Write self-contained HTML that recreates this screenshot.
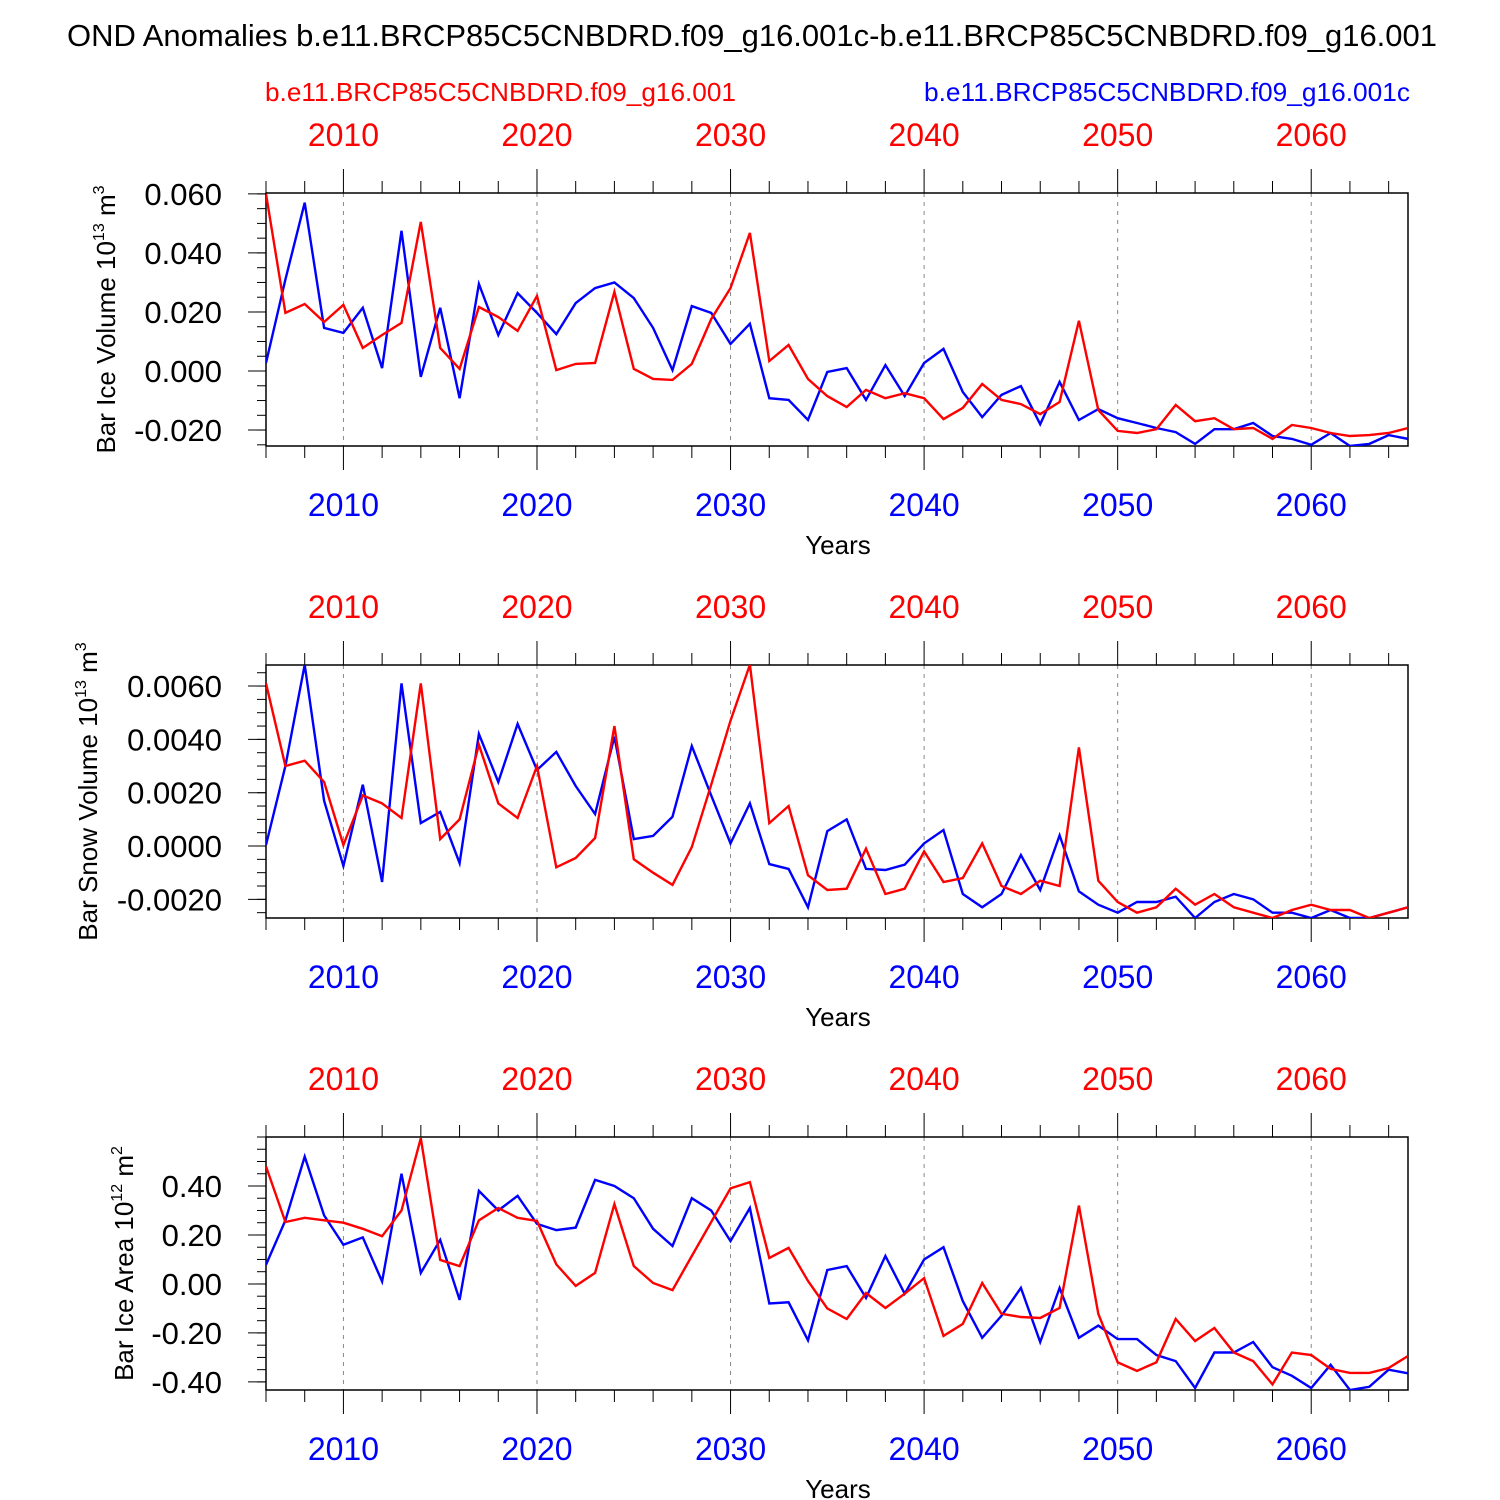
<!DOCTYPE html>
<html><head><meta charset="utf-8"><style>body{margin:0;background:#fff}svg{display:block}text{font-family:"Liberation Sans",sans-serif}</style></head>
<body>
<svg id="chart" width="1500" height="1500" viewBox="0 0 1500 1500" xmlns="http://www.w3.org/2000/svg">
<text x="752" y="46" font-size="31" text-anchor="middle" textLength="1370" lengthAdjust="spacingAndGlyphs">OND Anomalies b.e11.BRCP85C5CNBDRD.f09_g16.001c-b.e11.BRCP85C5CNBDRD.f09_g16.001</text>
<text x="265" y="101" font-size="26" fill="#f00" textLength="471" lengthAdjust="spacingAndGlyphs">b.e11.BRCP85C5CNBDRD.f09_g16.001</text>
<text x="924" y="101" font-size="26" fill="#00f" textLength="486" lengthAdjust="spacingAndGlyphs">b.e11.BRCP85C5CNBDRD.f09_g16.001c</text>
</svg>
<script>
const years=[];for(let y=2006;y<=2065;y++)years.push(y);
const iceVolBlue=[0.0027,0.031,0.057,0.0146,0.0129,0.0214,0.001,0.0475,-0.002,0.0214,-0.0092,0.0295,0.0122,0.0264,0.0197,0.0125,0.023,0.0281,0.030,0.0247,0.0146,0.0003,0.022,0.0197,0.0092,0.016,-0.0092,-0.0098,-0.0166,-0.0003,0.001,-0.0098,0.002,-0.0085,0.0027,0.0075,-0.0071,-0.0156,-0.0081,-0.0051,-0.018,-0.0037,-0.0166,-0.0129,-0.016,-0.0176,-0.0193,-0.0207,-0.0247,-0.0197,-0.0197,-0.0176,-0.022,-0.023,-0.025,-0.021,-0.0254,-0.0247,-0.0217,-0.023];
const iceVolRed=[0.060,0.0197,0.0227,0.0166,0.0224,0.0078,0.0122,0.0163,0.0505,0.0078,0.0007,0.0217,0.0183,0.0136,0.0254,0.0003,0.0024,0.0027,0.0268,0.0007,-0.0027,-0.003,0.0024,0.0176,0.0281,0.0468,0.0034,0.0088,-0.0027,-0.0085,-0.0122,-0.0064,-0.0092,-0.0075,-0.0092,-0.0163,-0.0125,-0.0044,-0.0098,-0.0112,-0.0146,-0.0105,0.017,-0.0132,-0.0203,-0.021,-0.0197,-0.0115,-0.017,-0.016,-0.0197,-0.0193,-0.023,-0.0183,-0.0193,-0.021,-0.022,-0.0217,-0.021,-0.0193];
const snowBlue=[0.00004,0.0030,0.0068,0.0017,-0.00075,0.0023,-0.00135,0.0061,0.00086,0.00128,-0.00064,0.0042,0.0024,0.00458,0.00285,0.00353,0.00225,0.0012,0.0041,0.00026,0.00038,0.0011,0.00375,0.0019,0.0001,0.0016,-0.00068,-0.00086,-0.0023,0.00056,0.001,-0.00086,-0.0009,-0.0007,0.0001,0.0006,-0.0018,-0.0023,-0.0018,-0.00034,-0.00165,0.0004,-0.0017,-0.0022,-0.0025,-0.0021,-0.0021,-0.0019,-0.0027,-0.0021,-0.0018,-0.002,-0.0025,-0.0025,-0.0027,-0.0024,-0.0027,-0.0027,-0.0025,-0.0023];
const snowRed=[0.0061,0.003,0.0032,0.0024,0.00004,0.0019,0.0016,0.00105,0.0061,0.00026,0.001,0.0038,0.0016,0.00105,0.003,-0.0008,-0.00045,0.0003,0.0045,-0.0005,-0.001,-0.00146,-0.00004,0.0023,0.0047,0.0068,0.00086,0.0015,-0.0011,-0.00165,-0.0016,-0.0001,-0.0018,-0.0016,-0.0002,-0.00135,-0.0012,0.0001,-0.0015,-0.0018,-0.0013,-0.0015,0.0037,-0.0013,-0.0021,-0.0025,-0.0023,-0.0016,-0.0022,-0.0018,-0.0023,-0.0025,-0.0027,-0.0024,-0.0022,-0.0024,-0.0024,-0.0027,-0.0025,-0.0023];
const areaBlue=[0.078,0.26,0.52,0.28,0.16,0.19,0.01,0.45,0.045,0.18,-0.065,0.38,0.30,0.36,0.245,0.22,0.23,0.425,0.40,0.35,0.225,0.155,0.35,0.30,0.175,0.31,-0.08,-0.075,-0.23,0.057,0.073,-0.057,0.114,-0.04,0.10,0.15,-0.07,-0.22,-0.13,-0.016,-0.237,-0.016,-0.22,-0.17,-0.225,-0.225,-0.29,-0.315,-0.425,-0.28,-0.28,-0.237,-0.34,-0.375,-0.425,-0.33,-0.433,-0.42,-0.35,-0.365];
const areaRed=[0.48,0.253,0.27,0.26,0.25,0.225,0.195,0.30,0.595,0.098,0.073,0.26,0.31,0.27,0.257,0.08,-0.008,0.045,0.326,0.073,0.004,-0.025,0.114,0.253,0.39,0.416,0.106,0.147,0.012,-0.10,-0.143,-0.037,-0.098,-0.04,0.024,-0.212,-0.163,0.004,-0.122,-0.135,-0.139,-0.098,0.32,-0.122,-0.32,-0.355,-0.32,-0.143,-0.233,-0.18,-0.28,-0.315,-0.41,-0.28,-0.29,-0.347,-0.363,-0.363,-0.343,-0.294];
const decadeTicks=[2010,2020,2030,2040,2050,2060];
const iceTicks=["0.060","0.040","0.020","0.000","-0.020"];
const snowTicks=["0.0060","0.0040","0.0020","0.0000","-0.0020"];
const areaTicks=["0.40","0.20","0.00","-0.20","-0.40"];

const svg=document.getElementById('chart');
const NS='http://www.w3.org/2000/svg';
function mk(tag,attrs,parent){const e=document.createElementNS(NS,tag);for(const k in attrs)e.setAttribute(k,attrs[k]);(parent||svg).appendChild(e);return e;}
const X0=266,X1=1408,YR0=2006,YR1=2065;
function xs(yr){return X0+(yr-YR0)/(YR1-YR0)*(X1-X0);}

const panels=[
 {name:'ice-volume',top:193,bot:446,min:-0.0254,max:0.0603,ticks:iceTicks,minor:0.005,blue:iceVolBlue,red:iceVolRed,ylab:'Bar Ice Volume 10',sup:'13',unit:' m',usup:'3',ylx:115},
 {name:'snow-volume',top:665,bot:918,min:-0.0027,max:0.00679,ticks:snowTicks,minor:0.0005,blue:snowBlue,red:snowRed,ylab:'Bar Snow Volume 10',sup:'13',unit:' m',usup:'3',ylx:97},
 {name:'ice-area',top:1137,bot:1390,min:-0.433,max:0.6,ticks:areaTicks,minor:0.05,blue:areaBlue,red:areaRed,ylab:'Bar Ice Area 10',sup:'12',unit:' m',usup:'2',ylx:133}
];
panels.forEach(p=>{
 const g=mk('g',{});
 
 
 const ys=v=>p.bot-(v-p.min)/(p.max-p.min)*(p.bot-p.top);
 decadeTicks.forEach(d=>{const l=mk('line',{x1:xs(d),x2:xs(d),y1:p.top,y2:p.bot,stroke:'#888','stroke-width':1,'stroke-dasharray':'4,5'},g);
  });
 for(let yr=YR0;yr<=YR1;yr++){const major=yr%10===0;const len=major?24:12;
  if(!major && yr%2!==0) continue;
  mk('line',{x1:xs(yr),x2:xs(yr),y1:p.bot,y2:p.bot+len,stroke:'#000','stroke-width':1},g);
  mk('line',{x1:xs(yr),x2:xs(yr),y1:p.top,y2:p.top-len,stroke:'#000','stroke-width':1},g);}
 for(let v=Math.ceil(p.min/p.minor)*p.minor;v<=p.max+1e-12;v+=p.minor){
  mk('line',{x1:X0,x2:X0-9,y1:ys(v),y2:ys(v),stroke:'#000','stroke-width':1},g);}
 p.ticks.forEach(t=>{const v=parseFloat(t);const y=ys(v);
  mk('line',{x1:X0,x2:X0-18,y1:y,y2:y,stroke:'#000','stroke-width':1},g);
  const tx=mk('text',{x:X0-44,y:y+11,'font-size':31,'text-anchor':'end'},g);tx.textContent=t;
  });
 const fr=mk('rect',{x:X0,y:p.top,width:X1-X0,height:p.bot-p.top,fill:'none',stroke:'#000','stroke-width':1.5},g);
 
 decadeTicks.forEach(d=>{
  const t1=mk('text',{x:xs(d),y:p.top-47,'font-size':32,'text-anchor':'middle',fill:'#f00'},g);t1.textContent=d;
  
  const t2=mk('text',{x:xs(d),y:p.bot+70,'font-size':32,'text-anchor':'middle',fill:'#00f'},g);t2.textContent=d;
  });
 const xt=mk('text',{x:838,y:p.bot+108,'font-size':26,'text-anchor':'middle'},g);xt.textContent='Years';
 
 const cy=(p.top+p.bot)/2;
 const yt=mk('text',{x:0,y:0,'font-size':26,'text-anchor':'middle',transform:`translate(${p.ylx},${cy}) rotate(-90)`},g);
 
 const a=document.createElementNS(NS,'tspan');a.textContent=p.ylab;yt.appendChild(a);
 const b=mk('tspan',{dy:-11,'font-size':16},yt);b.textContent=p.sup;
 const c=mk('tspan',{dy:11},yt);c.textContent=p.unit;
 const d=mk('tspan',{dy:-11,'font-size':16},yt);d.textContent=p.usup;
 const clipId='clip-'+p.name;
 const cp=mk('clipPath',{id:clipId},g);mk('rect',{x:X0,y:p.top,width:X1-X0,height:p.bot-p.top},cp);
 [['blue',p.blue,'#00f'],['red',p.red,'#f00']].forEach(([n,arr,col])=>{
  const pts=arr.map((v,i)=>xs(years[i]).toFixed(1)+','+ys(v).toFixed(1)).join(' ');
  const pl=mk('polyline',{points:pts,fill:'none',stroke:col,'stroke-width':2.4,'clip-path':`url(#${clipId})`},g);
  
  
 });
});
</script>
</body></html>
